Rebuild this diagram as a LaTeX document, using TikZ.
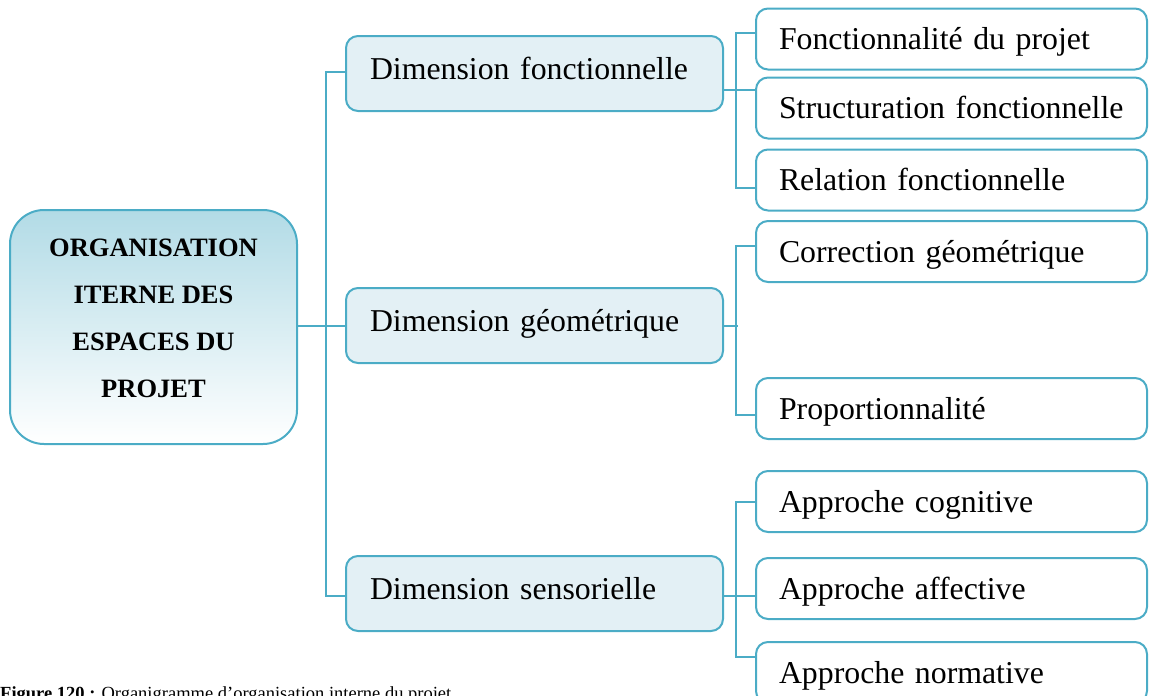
\documentclass[tikz,border=0pt]{standalone}
\usepackage{fontspec}
\setmainfont{Liberation Serif}
\begin{document}
\definecolor{edgeblue}{HTML}{4BACC6}
\definecolor{dimfill}{HTML}{E3F0F5}
\definecolor{roottop}{HTML}{B2DBE6}
\tikzset{
  rootbox/.style={draw=edgeblue, line width=2pt, rounded corners=34pt,
    top color=roottop, bottom color=white, minimum width=287pt, minimum height=234pt, inner sep=0pt},
  dimbox/.style={draw=edgeblue, line width=2pt, rounded corners=12pt, fill=dimfill,
    minimum width=377pt, minimum height=75pt, inner xsep=24pt, inner ysep=0pt,
    text height=43pt, text depth=32pt,
    text width=329pt, align=left, font=\fontsize{31.8}{36}\selectfont},
  leafbox/.style={draw=edgeblue, line width=2pt, rounded corners=12pt, fill=white,
    minimum width=391pt, minimum height=61pt, inner xsep=23pt, inner ysep=0pt,
    text height=41pt, text depth=20pt,
    text width=345pt, align=left, font=\fontsize{31.8}{36}\selectfont},
  link/.style={draw=edgeblue, line width=2pt}
}
\begin{tikzpicture}[x=1pt,y=-1pt]
\useasboundingbox (0,0) rectangle (1149,696);
\clip (0,0) rectangle (1149,696);

% root
\node[rootbox] (root) at (153.5,327) {};
\node[align=center, font=\fontsize{26.5}{47}\selectfont\bfseries] (roottxt) at (153.5,318)
  {ORGANISATION\\ITERNE DES\\ESPACES DU\\PROJET};

% first level
\node[dimbox] (d1) at (534.5,73.5) {Dimension fonctionnelle};
\node[dimbox] (d2) at (534.5,325.5) {Dimension géométrique};
\node[dimbox] (d3) at (534.5,593.5) {Dimension sensorielle};

% second level
\node[leafbox] (f1) at (951.5,39) {Fonctionnalité du projet};
\node[leafbox] (f2) at (951.5,108) {Structuration fonctionnelle};
\node[leafbox] (f3) at (951.5,180) {Relation fonctionnelle};
\node[leafbox] (g1) at (951.5,251.5) {Correction géométrique};
\node[leafbox] (g2) at (951.5,408.5) {Proportionnalité};
\node[leafbox] (s1) at (951.5,501.5) {Approche cognitive};
\node[leafbox] (s2) at (951.5,588.5) {Approche affective};
\node[leafbox] (s3) at (951.5,672.5) {Approche normative};

% root to first level
\draw[link] ([yshift=1pt]root.east) -- ++(30,0);
\draw[link] ([yshift=2pt]d1.west) -- ++(-19,0) |- ([yshift=-2.5pt]d3.west);
\draw[link] (d2.west) -- ++(-19,0);

% functional group
\draw[link] ([yshift=-16.5pt]d1.east) -- ++(33,0);
\draw[link] ([yshift=6pt]f1.west) -- ++(-19,0) |- ([yshift=-8pt]f3.west);

% geometric group
\draw[link] (d2.east) -- ++(14,0);
\draw[link] ([yshift=5.5pt]g1.west) -- ++(-19,0) |- ([yshift=-6.5pt]g2.west);

% sensory group
\draw[link] ([yshift=-2.5pt]d3.east) -- ++(33,0);
\draw[link] ([yshift=-0.5pt]s1.west) -- ++(-19,0) |- ([yshift=15.5pt]s3.west);

% caption
\node[anchor=base west, inner sep=0pt, font=\fontsize{18.5}{22}\selectfont] (cap) at (0,699)
  {\textbf{Figure 120 :} Organigramme d’organisation interne du projet};
\end{tikzpicture}
\end{document}
